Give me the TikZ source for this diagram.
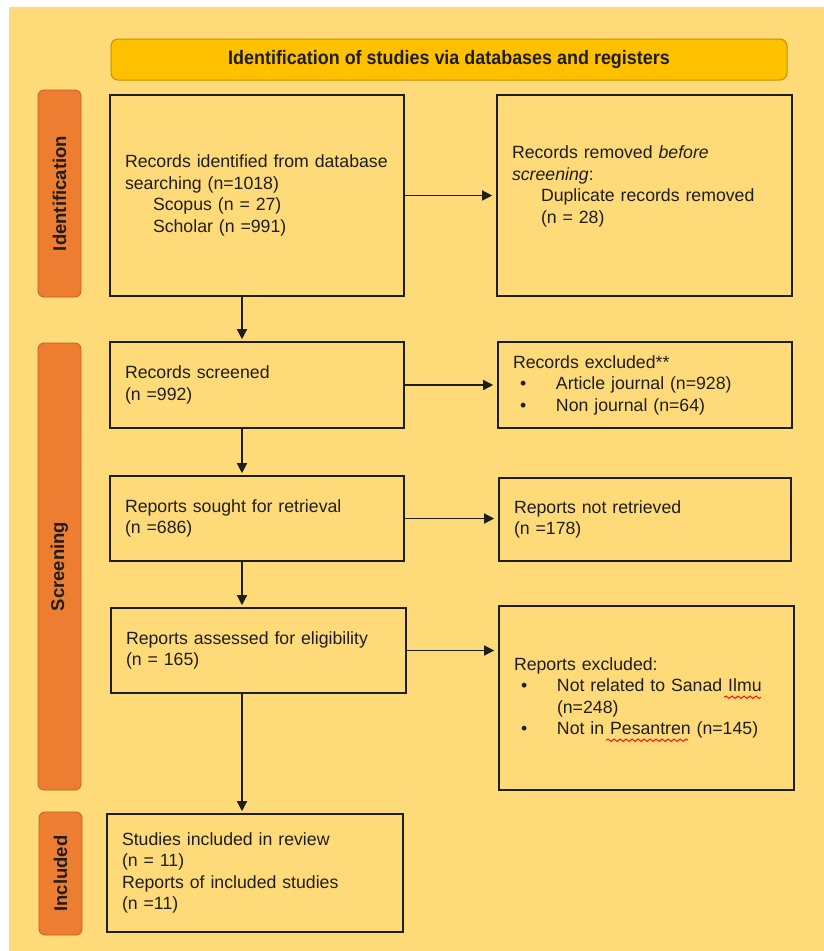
\documentclass[tikz,border=0pt]{standalone}
\usepackage{fontspec}
\setmainfont{Liberation Sans}
\newfontfamily\narrowfont{Liberation Sans}[FakeStretch=0.92]
\usepackage{tikz}
\usetikzlibrary{arrows.meta,decorations.pathmorphing}
\definecolor{prismabg}{HTML}{FFDA78}
\definecolor{prismagold}{HTML}{FFC000}
\definecolor{prismagoldline}{HTML}{C49300}
\definecolor{prismaorange}{HTML}{ED7D31}
\definecolor{prismaorangeline}{HTML}{BF6024}
\definecolor{prismaink}{HTML}{1E1E1E}
\newcommand{\itembullet}{\makebox[43pt][l]{\hspace*{7pt}\textbullet}}

\begin{document}
\begin{tikzpicture}[x=1pt,y=-1pt,font=\fontsize{17.7}{21.5}\selectfont,
  box/.style={draw=prismaink,line width=1.6pt,inner xsep=15pt,align=left,text=prismaink},
  phase/.style={draw=prismaorangeline,fill=prismaorange,rounded corners=6pt,line width=0.8pt,
    rotate=90,minimum height=43pt,font=\fontsize{18.5}{20}\selectfont\bfseries,text=prismaink},
  flow/.style={draw=prismaink,line width=1.4pt,-{Triangle[length=10pt,width=10pt]},shorten >=4pt},
  spell/.style={draw=red,line width=0.9pt,decorate,decoration={snake,amplitude=1.2pt,segment length=6pt}}]
\useasboundingbox (0,0) rectangle (824,951);
\fill[prismabg] (9,7) rectangle (824,951);
\node[draw=prismagoldline,fill=prismagold,rounded corners=7pt,line width=1pt,minimum width=676pt,
  minimum height=41pt,font=\narrowfont\fontsize{19.5}{21}\selectfont\bfseries,text=prismaink] (title) at (449,59.5)
  {Identification of studies via databases and registers};
% phases
\node[phase,minimum width=207pt] (phaseid) at (59.5,193.5) {Identification};
\node[phase,minimum width=447pt] (phasescr) at (59.5,566.5) {Screening};
\node[phase,minimum width=123pt] (phaseinc) at (60.5,873.5) {Included};
% left column
\node[box,minimum width=294pt,minimum height=201pt,text width=264pt] (ident) at (257,195.5)
  {Records identified from database\\searching (n=1018)\\\hspace*{28pt}Scopus (n = 27)\\\hspace*{28pt}Scholar (n =991)};
\node[box,minimum width=294pt,minimum height=86pt,text width=264pt] (screened) at (257,385)
  {Records screened\\(n =992)};
\node[box,minimum width=294pt,minimum height=85pt,text width=264pt] (sought) at (257,518.5)
  {Reports sought for retrieval\\(n =686)};
\node[box,minimum width=295pt,minimum height=85pt,text width=265pt] (assessed) at (258.5,650.5)
  {Reports assessed for eligibility\\(n = 165)};
\node[box,minimum width=296pt,minimum height=118pt,text width=266pt] (included) at (255,873)
  {Studies included in review\\(n = 11)\\Reports of included studies\\(n =11)};
% right column
\node[box,minimum width=295pt,minimum height=201pt,text width=265pt] (removed) at (644.5,195.5)
  {Records removed \textit{before}\\\textit{screening}:\\\hspace*{29pt}Duplicate records removed\\\hspace*{29pt}(n = 28)\\\mbox{}};
\node[box,minimum width=294pt,minimum height=86pt,text width=264pt] (excluded) at (645,385)
  {Records excluded**\\\itembullet Article journal (n=928)\\\itembullet Non journal (n=64)};
\node[box,minimum width=292pt,minimum height=83pt,text width=262pt] (notretr) at (645,519.5)
  {Reports not retrieved\\(n =178)};
\node[box,minimum width=295pt,minimum height=184pt,text width=265pt] (repexcl) at (646.5,698)
  {Reports excluded:\\\itembullet Not related to Sanad Ilmu\\\hspace*{43pt}(n=248)\\\itembullet Not in Pesantren (n=145)};
\draw[spell] ([xshift=226pt,yshift=-92pt]repexcl.north west) -- ([xshift=263pt,yshift=-92pt]repexcl.north west);
\draw[spell] ([xshift=108pt,yshift=-135pt]repexcl.north west) -- ([xshift=190pt,yshift=-135pt]repexcl.north west);
% connectors
\coordinate (spine) at (242,0);
\draw[flow] (ident.east) -- (ident.east -| removed.west);
\draw[flow] (screened.east) -- (screened.east -| excluded.west);
\draw[flow] (sought.east) -- (sought.east -| notretr.west);
\draw[flow] (assessed.east) -- (assessed.east -| repexcl.west);
\draw[flow,shorten >=2pt] (ident.south -| spine) -- (screened.north -| spine);
\draw[flow,shorten >=2pt] (screened.south -| spine) -- (sought.north -| spine);
\draw[flow,shorten >=2pt] (sought.south -| spine) -- (assessed.north -| spine);
\draw[flow,shorten >=2pt] (assessed.south -| spine) -- (included.north -| spine);
\end{tikzpicture}
\end{document}
